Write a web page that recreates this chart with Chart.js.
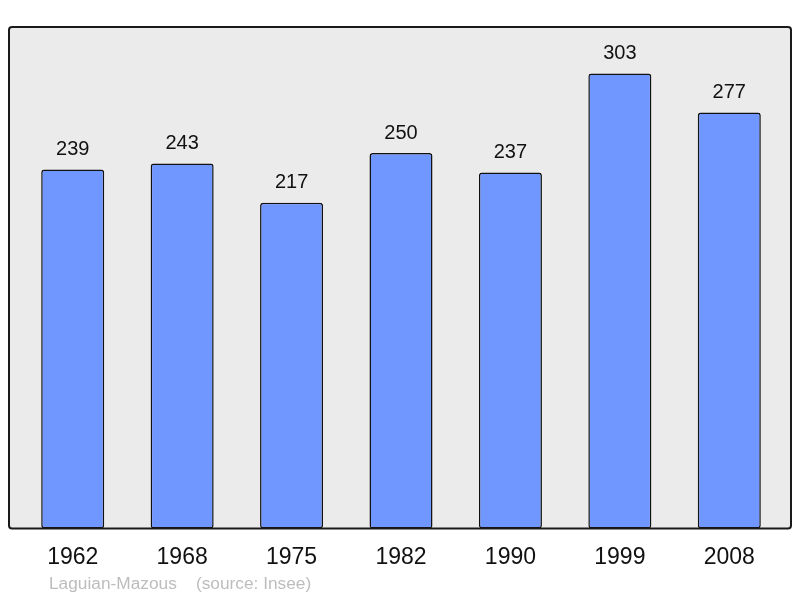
<!DOCTYPE html>
<html>
<head>
<meta charset="utf-8">
<script src="https://cdn.jsdelivr.net/npm/chart.js@4"></script>
<style>
  body { margin: 0; background: #fff; }
  canvas { display: block; }
</style>
</head>
<body>
<canvas id="chart" width="800" height="598"></canvas>
<script>
const years = ["1962", "1968", "1975", "1982", "1990", "1999", "2008"];
const population = [239, 243, 217, 250, 237, 303, 277];
const footer = "Laguian-Mazous    (source: Insee)";

// grey panel with dark border behind the bars
const panel = {
    id: "panel",
    beforeDraw(chart) {
        const ctx = chart.ctx;
        const a = chart.chartArea;
        const x = a.left - 9, y = a.top, w = a.right - a.left + 16, h = a.bottom - a.top;
        ctx.save();
        ctx.beginPath();
        ctx.roundRect(x, y, w, h, 3);
        ctx.fillStyle = "#ebebeb";
        ctx.fill();
        ctx.restore();
    },
    afterDatasetsDraw(chart) {
        const ctx = chart.ctx;
        const a = chart.chartArea;
        const x = a.left - 9, y = a.top, w = a.right - a.left + 16, h = a.bottom - a.top;
        ctx.save();
        ctx.beginPath();
        ctx.roundRect(x, y, w, h, 3);
        ctx.lineWidth = 2;
        ctx.strokeStyle = "#1a1a1a";
        ctx.stroke();

        // value labels above bars
        const meta = chart.getDatasetMeta(0);
        ctx.fillStyle = "#111";
        ctx.font = "20px 'Liberation Sans', Arial, sans-serif";
        ctx.textAlign = "center";
        ctx.textBaseline = "middle";
        meta.data.forEach((bar, i) => {
            ctx.fillText(String(population[i]), bar.x, bar.y - 20);
        });

        // source line
        ctx.fillStyle = "#bdbdbd";
        ctx.font = "17.3px 'Liberation Sans', Arial, sans-serif";
        ctx.textAlign = "left";
        ctx.fillText(footer, 49, 584);
        ctx.restore();
    }
};

new Chart(document.getElementById("chart"), {
    type: "bar",
    data: {
        labels: years,
        datasets: [{
            data: population,
            backgroundColor: "#7096ff",
            borderColor: "#111",
            borderWidth: 1.5,
            borderRadius: 3,
            borderSkipped: false,
            barPercentage: 0.576,
            categoryPercentage: 1
        }]
    },
    options: {
        responsive: false,
        animation: false,
        layout: {
            padding: { left: 18, right: 16, top: 27, bottom: 12 }
        },
        scales: {
            x: {
                grid: { display: false, drawTicks: false },
                border: { display: false },
                ticks: {
                    color: "#111",
                    padding: 15,
                    font: { size: 23, family: "'Liberation Sans', Arial, sans-serif" }
                }
            },
            y: {
                display: false,
                min: 0,
                max: 334
            }
        },
        plugins: {
            legend: { display: false },
            tooltip: { enabled: false }
        }
    },
    plugins: [panel]
});
</script>
</body>
</html>
